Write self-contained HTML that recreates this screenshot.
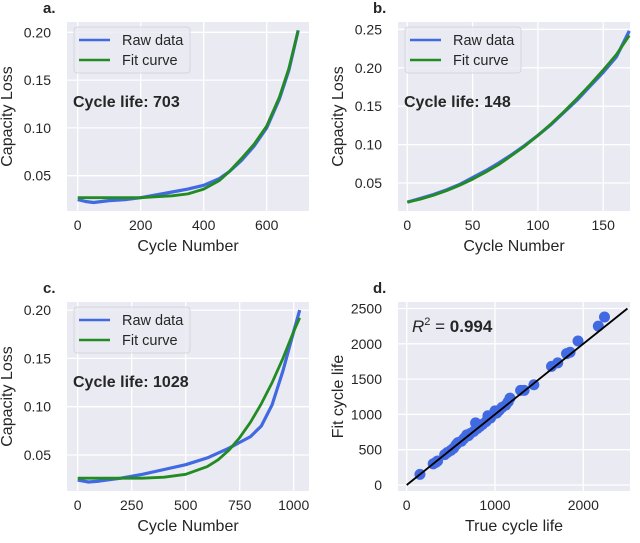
<!DOCTYPE html>
<html><head><meta charset="utf-8"><style>
body{margin:0;background:#fff;}
svg{display:block;font-family:"Liberation Sans",sans-serif;}
</style></head><body>
<svg id="c" width="640" height="543" viewBox="0 0 640 543" xmlns="http://www.w3.org/2000/svg"></svg>
<script>
// Panel a data
const aX=[0,25,50,100,150,200,250,300,350,400,450,480,520,560,600,640,670,700];
const aRaw=[0.025,0.023,0.022,0.024,0.025,0.027,0.030,0.033,0.036,0.040,0.047,0.054,0.066,0.081,0.100,0.130,0.160,0.202];
const aFit=[0.027,0.027,0.027,0.027,0.027,0.027,0.028,0.029,0.031,0.036,0.045,0.054,0.068,0.083,0.102,0.132,0.162,0.202];
const aXT=[0,200,400,600];const aYT=[0.05,0.10,0.15,0.20];
// Panel b data
const bX=[0,10,20,30,40,50,60,70,80,90,100,110,120,130,140,150,160,170];
const bRaw=[0.025,0.030,0.035,0.041,0.048,0.057,0.066,0.076,0.087,0.099,0.112,0.126,0.142,0.158,0.176,0.194,0.214,0.248];
const bFit=[0.025,0.029,0.034,0.040,0.047,0.055,0.064,0.074,0.086,0.098,0.112,0.127,0.143,0.160,0.178,0.197,0.217,0.242];
const bXT=[0,50,100,150];const bYT=[0.05,0.10,0.15,0.20,0.25];
// Panel c data
const cX=[0,50,100,200,300,400,500,600,650,700,750,800,850,900,950,1000,1028];
const cRaw=[0.024,0.022,0.023,0.026,0.030,0.035,0.040,0.047,0.052,0.057,0.063,0.069,0.080,0.102,0.137,0.178,0.200];
const cFit=[0.026,0.026,0.026,0.026,0.026,0.027,0.030,0.038,0.045,0.055,0.068,0.084,0.103,0.125,0.150,0.178,0.192];
const cXT=[0,250,500,750,1000];const cYT=[0.05,0.10,0.15,0.20];
// Panel d data
const dTrue=[150,300,330,350,430,460,500,530,560,580,620,650,680,700,720,760,780,800,830,860,900,920,950,980,1000,1020,1050,1080,1120,1150,1170,1290,1330,1440,1640,1710,1810,1850,1940,2170,2240];
const dFit=[150,300,320,340,430,460,490,520,570,600,620,660,710,700,730,760,880,800,830,860,900,980,950,1000,1050,1020,1060,1100,1130,1180,1230,1340,1340,1420,1680,1730,1860,1880,2040,2250,2380];
const dXT=[0,1000,2000];const dYT=[0,500,1000,1500,2000,2500];

const svg=document.getElementById('c');const NS='http://www.w3.org/2000/svg';
function mk(t,a,p){const e=document.createElementNS(NS,t);for(const k in a)e.setAttribute(k,a[k]);(p||svg).appendChild(e);return e;}
function txt(s,a,p){const e=mk('text',a,p);e.textContent=s;return e;}

function panel(o){
  const g=mk('g',{});
  
  
  const sx=v=>o.x0+(v-o.xv0)*o.xs, sy=v=>o.y0-(v-o.yv0)*o.ys;
  const bg=mk('rect',{x:o.L,y:o.T,width:o.R-o.L,height:o.B-o.T,fill:'#EAEAF2'},g);
  
  
  o.xt.forEach(v=>{const x=sx(v);mk('line',{x1:x,x2:x,y1:o.T,y2:o.B,stroke:'#fff','stroke-width':1.3},g);
    const t=txt(o.fmtx(v),{x:x,y:o.B+19,'font-size':14,fill:'#262626','text-anchor':'middle'},g);
    });
  o.yt.forEach(v=>{const y=sy(v);mk('line',{x1:o.L,x2:o.R,y1:y,y2:y,stroke:'#fff','stroke-width':1.3},g);
    const t=txt(o.fmty(v),{x:o.L-16,y:y+5,'font-size':14,fill:'#262626','text-anchor':'end'},g);
    });
  const xl=txt(o.xlab,{x:(o.L+o.R)/2,y:o.B+40,'font-size':16,fill:'#262626','text-anchor':'middle'},g);
  
  const cy=(o.T+o.B)/2;
  const yl=txt(o.ylab,{x:o.L-55,y:cy,'font-size':16,fill:'#262626','text-anchor':'middle',transform:`rotate(-90 ${o.L-55} ${cy})`},g);
  
  const pl=txt(o.letter,{x:o.lx,y:o.T-9,'font-size':15,'font-weight':'bold',fill:'#262626'},g);
  
  return {g,sx,sy};
}
function curvePanel(o,xs,raw,fit,life){
  const p=panel(o);
  const path=(ys)=>xs.map((v,i)=>(i?'L':'M')+p.sx(v).toFixed(1)+' '+p.sy(ys[i]).toFixed(1)).join(' ');
  const r=mk('path',{d:path(raw),fill:'none',stroke:'#4169E1','stroke-width':3.2,'stroke-linejoin':'round'},p.g);
  
  const f=mk('path',{d:path(fit),fill:'none',stroke:'#228B22','stroke-width':2.8,'stroke-linejoin':'round'},p.g);
  
  const lg=mk('g',{},p.g);
  const lx=o.L+7,ly=o.T+5;
  mk('rect',{x:lx,y:ly,width:116,height:46,rx:3,fill:'#EAEAF2',stroke:'#d0d0d8','stroke-width':0.8,'fill-opacity':0.8},lg);
  mk('line',{x1:lx+5,x2:lx+36,y1:ly+13,y2:ly+13,stroke:'#4169E1','stroke-width':2.5},lg);
  mk('line',{x1:lx+5,x2:lx+36,y1:ly+33,y2:ly+33,stroke:'#228B22','stroke-width':2.5},lg);
  const e1=txt('Raw data',{x:lx+48,y:ly+18,'font-size':14.5,fill:'#262626'},lg);
  
  const e2=txt('Fit curve',{x:lx+48,y:ly+38,'font-size':14.5,fill:'#262626'},lg);
  
  const cl=txt('Cycle life: '+life,{x:o.L+6,y:o.T+85,'font-size':16,'font-weight':'bold',fill:'#262626'},p.g);
  
}
const f2=v=>v.toFixed(2), fi=v=>String(v);
curvePanel({name:'panel-a',letter:'a.',lx:43,L:67,R:309,T:22,B:211,x0:77.7,xv0:0,xs:63/200,y0:175.7,yv0:0.05,ys:47.8/0.05,xt:aXT,yt:aYT,fmtx:fi,fmty:f2,xlab:'Cycle Number',ylab:'Capacity Loss'},aX,aRaw,aFit,703);
curvePanel({name:'panel-b',letter:'b.',lx:373,L:398,R:630,T:22,B:211,x0:407.3,xv0:0,xs:65.3/50,y0:183,yv0:0.05,ys:38.4/0.05,xt:bXT,yt:bYT,fmtx:fi,fmty:f2,xlab:'Cycle Number',ylab:'Capacity Loss'},bX,bRaw,bFit,148);
curvePanel({name:'panel-c',letter:'c.',lx:43,L:67,R:309,T:302,B:491,x0:77.7,xv0:0,xs:54/250,y0:455,yv0:0.05,ys:48.3/0.05,xt:cXT,yt:cYT,fmtx:fi,fmty:f2,xlab:'Cycle Number',ylab:'Capacity Loss'},cX,cRaw,cFit,1028);
(function(){
  const o={name:'panel-d',letter:'d.',lx:373,L:398,R:630,T:302,B:491,x0:406.7,xv0:0,xs:88.3/1000,y0:485,yv0:0,ys:35.3/500,xt:dXT,yt:dYT,fmtx:fi,fmty:fi,xlab:'True cycle life',ylab:'Fit cycle life'};
  const p=panel(o);
  dTrue.forEach((v,i)=>{const c=mk('circle',{cx:p.sx(v),cy:p.sy(dFit[i]),r:5.5,fill:'#4169E1'},p.g);
    });
  const l=mk('line',{x1:p.sx(0),y1:p.sy(0),x2:p.sx(2500),y2:p.sy(2500),stroke:'#000','stroke-width':1.8},p.g);
  
  const t=mk('text',{x:o.L+14,y:o.T+30,'font-size':17,fill:'#262626'},p.g);
  
  t.innerHTML='<tspan font-style="italic">R</tspan><tspan dy="-7" font-size="11">2</tspan><tspan dy="7"> = </tspan><tspan font-weight="bold">0.994</tspan>';
})();
</script>
</body></html>
